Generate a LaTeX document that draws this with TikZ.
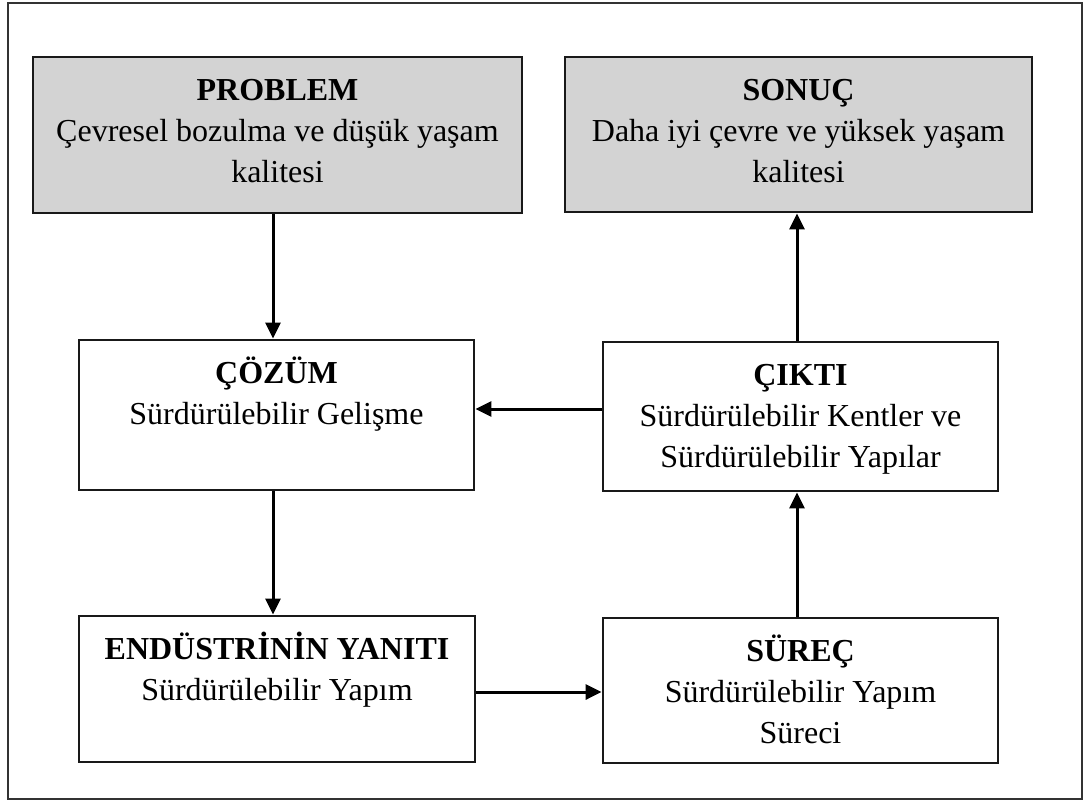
\documentclass[tikz,border=0pt]{standalone}
\usepackage{fontspec}
\setmainfont{Liberation Serif}
\usetikzlibrary{arrows.meta}
\definecolor{boxgray}{RGB}{211,211,211}
\begin{document}
\begin{tikzpicture}[x=1pt,y=-1pt,
  box/.style={draw=black!90, line width=2.8pt, rectangle, inner sep=0pt},
  shadedbox/.style={box, fill=boxgray},
  txt/.style={anchor=north, inner sep=0pt, align=center,
    font=\fontsize{32}{41}\selectfont},
  flow/.style={line width=3pt, -{Triangle[length=16pt,width=15pt]}}]

  \useasboundingbox (0,0) rectangle (1086,803);
  \draw[line width=2pt, black!80] (8,3) rectangle (1082,799);

  % boxes
  \node[shadedbox, minimum width=489pt, minimum height=156pt] (prob) at (277.5,135) {};
  \node[shadedbox, minimum width=467pt, minimum height=155pt] (son)  at (798.5,134.5) {};
  \node[box, minimum width=395pt, minimum height=150pt] (coz) at (276.5,415) {};
  \node[box, minimum width=395pt, minimum height=149pt] (cik) at (800.5,416.5) {};
  \node[box, minimum width=396pt, minimum height=146pt] (end) at (277,689) {};
  \node[box, minimum width=395pt, minimum height=145pt] (sur) at (800.5,690.5) {};

  % texts
  \node[txt] (probT) at ([yshift=-16pt]prob.north)
    {\strut\textbf{PROBLEM}\\\strut Çevresel bozulma ve düşük yaşam\\\strut kalitesi};
  \node[txt] (sonT) at ([yshift=-16pt]son.north)
    {\strut\textbf{SONUÇ}\\\strut Daha iyi çevre ve yüksek yaşam\\\strut kalitesi};
  \node[txt] (cozT) at ([yshift=-16pt]coz.north)
    {\strut\textbf{ÇÖZÜM}\\\strut Sürdürülebilir Gelişme};
  \node[txt] (cikT) at ([yshift=-16pt]cik.north)
    {\strut\textbf{ÇIKTI}\\\strut Sürdürülebilir Kentler ve\\\strut Sürdürülebilir Yapılar};
  \node[txt] (endT) at ([yshift=-16pt]end.north)
    {\strut\textbf{ENDÜSTRİNİN YANITI}\\\strut Sürdürülebilir Yapım};
  \node[txt] (surT) at ([yshift=-16pt]sur.north)
    {\strut\textbf{SÜREÇ}\\\strut Sürdürülebilir Yapım\\\strut Süreci};

  % connector lanes
  \coordinate (laneL) at (273,0);
  \coordinate (laneR) at (797,0);
  \coordinate (rowMid) at (0,409);
  \coordinate (rowLow) at (0,692);

  % connectors
  \draw[flow] (prob.south -| laneL) -- (coz.north -| laneL);
  \draw[flow] (coz.south -| laneL) -- (end.north -| laneL);
  \draw[flow] (end.east |- rowLow) -- (sur.west |- rowLow);
  \draw[flow] (sur.north -| laneR) -- (cik.south -| laneR);
  \draw[flow] (cik.north -| laneR) -- (son.south -| laneR);
  \draw[flow] (cik.west |- rowMid) -- (coz.east |- rowMid);
\end{tikzpicture}
\end{document}
